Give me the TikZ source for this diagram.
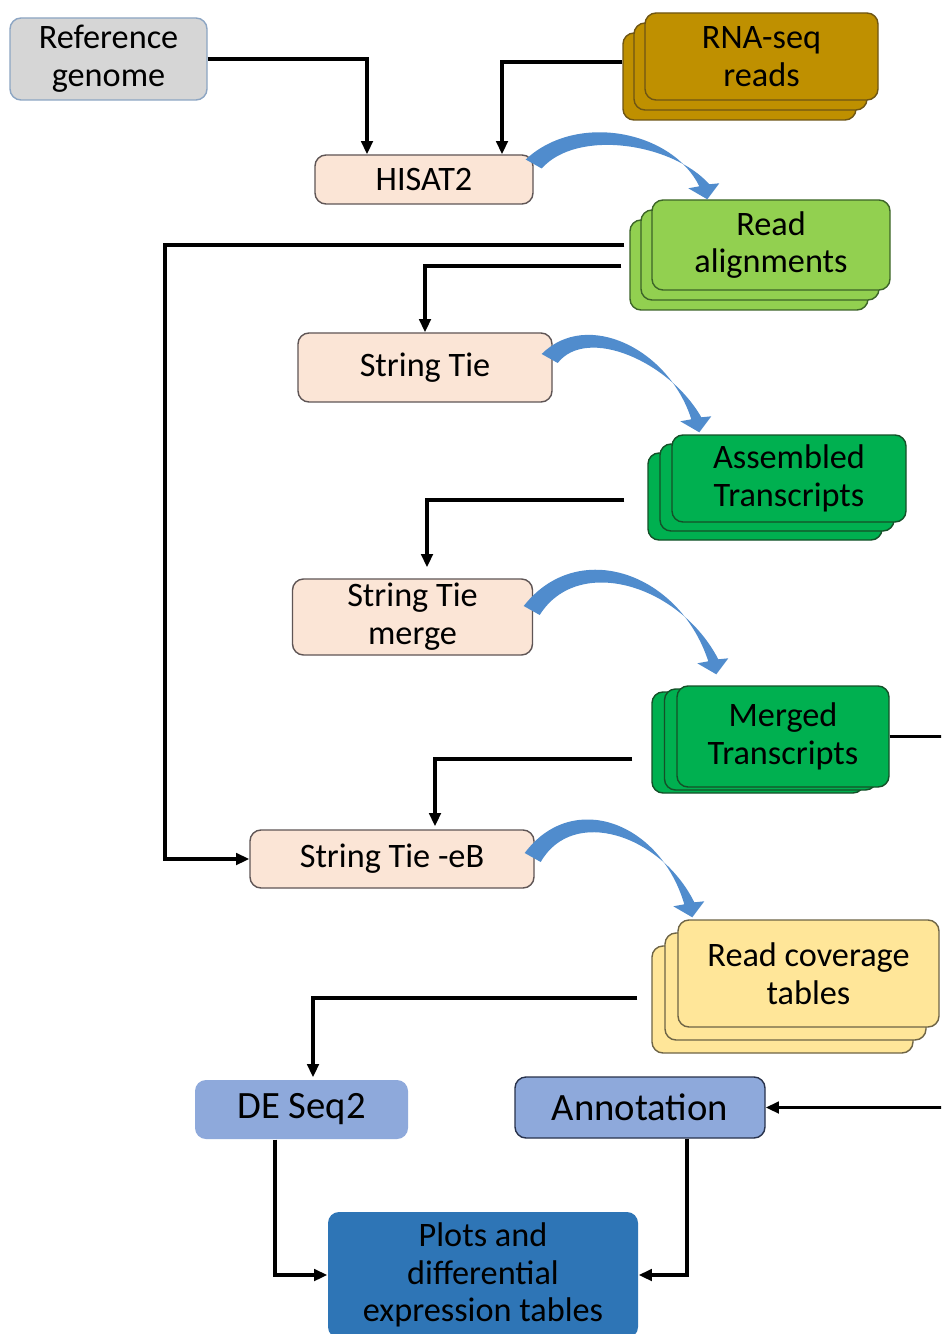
\documentclass[tikz,border=0pt]{standalone}
\usepackage{fontspec}
\setmainfont{Carlito}
\usetikzlibrary{arrows.meta,calc,positioning}

\newlength{\pxu}
\setlength{\pxu}{0.02cm}

\definecolor{refgray}{RGB}{214,214,214}
\definecolor{refedge}{RGB}{140,165,195}
\definecolor{goldfill}{RGB}{191,144,0}
\definecolor{goldedge}{RGB}{110,85,20}
\definecolor{peach}{RGB}{251,229,214}
\definecolor{peachedge}{RGB}{95,85,85}
\definecolor{limefill}{RGB}{146,208,80}
\definecolor{limeedge}{RGB}{60,100,40}
\definecolor{greenfill}{RGB}{0,176,80}
\definecolor{greenedge}{RGB}{20,80,40}
\definecolor{sandfill}{RGB}{255,230,153}
\definecolor{sandedge}{RGB}{110,100,70}
\definecolor{softblue}{RGB}{142,169,219}
\definecolor{softedge}{RGB}{40,50,75}
\definecolor{deepblue}{RGB}{46,117,182}
\definecolor{arrowblue}{RGB}{80,140,205}

\tikzset{
  box/.style={rectangle, rounded corners=0.22cm, align=center, inner sep=0pt,
    line width=0.8pt, font=\fontsize{19.5}{21.5}\selectfont},
  toolbox/.style={box, fill=peach, draw=peachedge},
  rnabox/.style={box, fill=goldfill, draw=goldedge, minimum width=233\pxu, minimum height=87\pxu},
  alignbox/.style={box, fill=limefill, draw=limeedge, minimum width=238\pxu, minimum height=90\pxu},
  asmbox/.style={box, fill=greenfill, draw=greenedge, minimum width=234\pxu, minimum height=87\pxu},
  mrgbox/.style={box, fill=greenfill, draw=greenedge, minimum width=212\pxu, minimum height=101\pxu},
  covbox/.style={box, fill=sandfill, draw=sandedge, minimum width=261\pxu, minimum height=107\pxu},
  flow/.style={line width=2pt, -{Triangle[length=7.5pt,width=6.5pt]}},
}

% tapered bent arrow: start, tip, lift
\newcommand{\bendarrow}[3]{%
  \coordinate (ba-s) at #1;
  \coordinate (ba-t) at #2;
  \fill[arrowblue] ($(ba-s)+(-8,-4)$)
    .. controls ($(ba-s)!0.25!(ba-t)+(0,-#3)$) and ($(ba-s)!0.8!(ba-t)+(0,-#3)$) .. ($(ba-t)+(-8,-13)$)
    -- ($(ba-t)+(-19,-11)$) -- (ba-t) -- ($(ba-t)+(12,-16)$) -- ($(ba-t)+(2,-15)$)
    .. controls ($(ba-s)!0.8!(ba-t)+(0,-#3+12)$) and ($(ba-s)!0.25!(ba-t)+(0,-#3+17)$) .. ($(ba-s)+(8,5)$)
    -- cycle;}

\begin{document}
\begin{tikzpicture}[x=0.02cm, y=-0.02cm]
    \useasboundingbox (0,0) rectangle (941,1334);
    \fill[white] (0,0) rectangle (941,1334);
    \clip (0,0) rectangle (941,1334);

    % Inputs
    \node[box, fill=refgray, draw=refedge, minimum width=197\pxu, minimum height=82\pxu] (ref) at (108.5,59) {Reference\\genome};
    \foreach \k in {2,1}
        \node[rnabox] (rna\k) at ({761.5-11*\k},{56.5+10*\k}) {};
    \node[rnabox] (rna) at (761.5,56.5) {RNA-seq\\reads};

    % Tools
    \node[toolbox, minimum width=218\pxu, minimum height=49\pxu] (hisat) at (424,179.5) {HISAT2};
    \node[toolbox, minimum width=254\pxu, minimum height=69\pxu] (stie) at (425,367.5) {String Tie};
    \node[toolbox, minimum width=240\pxu, minimum height=76\pxu] (merge) at (412.5,617) {String Tie\\merge};
    \node[toolbox, minimum width=284\pxu, minimum height=58\pxu] (eb) at (392,859) {String Tie -eB};

    % Outputs (stacked)
    \foreach \k in {2,1}
        \node[alignbox] (align\k) at ({771-11*\k},{245+10*\k}) {};
    \node[alignbox] (align) at (771,245) {Read\\alignments};
    \foreach \k in {2,1}
        \node[asmbox] (asm\k) at ({789-12*\k},{478.5+9*\k}) {};
    \node[asmbox] (asm) at (789,478.5) {Assembled\\Transcripts};
    \foreach \k in {2,1}
        \node[mrgbox] (mrg\k) at ({783-12.5*\k},{736.5+3*\k}) {};
    \node[mrgbox] (mrg) at (783,736.5) {Merged\\Transcripts};
    \foreach \k in {2,1}
        \node[covbox] (cov\k) at ({808.5-13*\k},{973.5+13*\k}) {};
    \node[covbox] (cov) at (808.5,973.5) {Read coverage\\tables};

    % Analysis
    \node[box, fill=softblue, minimum width=213\pxu, minimum height=59\pxu, font=\fontsize{22}{26}\selectfont] (deseq) at (301.5,1109.5) {DE Seq2};
    \node[box, fill=softblue, draw=softedge, minimum width=250\pxu, minimum height=61\pxu, font=\fontsize{22}{26}\selectfont] (anno) at (640,1107.5) {Annotation};
    \node[box, fill=deepblue, minimum width=310\pxu, minimum height=126\pxu] (plots) at (483,1275) {Plots and\\differential\\expression tables};

    % Connectors
    \coordinate (bypass) at (165,0);
    \coordinate (rail) at (960,0);
    \draw[flow] (ref.east) -| ($(hisat.north)+(-57,0)$);
    \draw[flow] ($(rna2.west)+(0,-14.5)$) -| ($(hisat.north)+(78,0)$);
    \draw[flow] ($(align2.west)+(-5,-20)$) coordinate (a1) -- (a1 -| bypass) |- (eb.west);
    \draw[flow] ($(align2.west)+(-8,1)$) -| (stie.north);
    \draw[flow] ($(asm2.west)+(-23,3.5)$) -| ($(merge.north)+(14.5,-11)$);
    \draw[flow] ($(mrg2.west)+(-19,16.5)$) -| ($(eb.north)+(43,-3)$);
    \draw[flow] ($(cov2.west)+(-14,-1.5)$) -| ($(deseq.north)+(11.5,-2)$);
    \draw[flow] (mrg.east) -- (mrg.east -| rail) |- (anno.east);
    \draw[flow] ($(deseq.south)+(-26.5,0)$) |- (plots.west);
    \draw[flow] ($(anno.south)+(47,0)$) |- (plots.east);

    % Bent arrows
    \bendarrow{($(hisat.east)+(0,-16)$)}{($(align.north west)+(56,0)$)}{61}
    \bendarrow{($(stie.east)+(-3,-9.5)$)}{($(asm.north west)+(28,-2)$)}{68}
    \bendarrow{($(merge.east)+(-1.5,-7)$)}{($(mrg.north west)+(40,-11)$)}{89}
    \bendarrow{($(eb.east)+(-2,-2)$)}{($(cov.north west)+(15,-2)$)}{83}
\end{tikzpicture}
\end{document}
